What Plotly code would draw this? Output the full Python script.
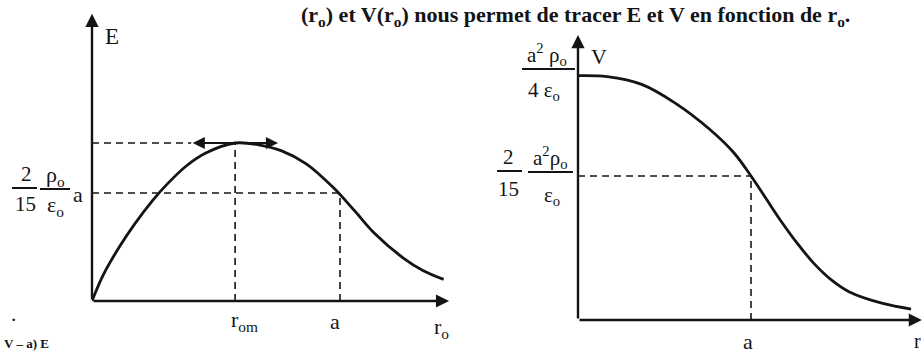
import plotly.graph_objects as go

# ---------------- data (a = 1, E(a) = 1, V(a) = 1) ----------------
# Left panel: E as a function of r0
E_r = [0, 0.045, 0.110, 0.171, 0.244, 0.302, 0.380, 0.459, 0.577, 0.672, 0.765, 0.864, 0.973,
       1.057, 1.142, 1.254, 1.336, 1.418]
E_val = [0, 0.24, 0.50, 0.71, 0.93, 1.08, 1.25, 1.37, 1.463, 1.446, 1.39, 1.27, 1.05,
         0.84, 0.62, 0.40, 0.28, 0.20]
r_om = 0.577
E_max = 1.463
E_a = 1.0
a_val = 1.0
tangent_r = [0.40, 0.75]
E_axis_max = [1.44, 2.66]   # x tip, y tip of left axes

# Right panel: V as a function of r0
V_r = [0, 0.169, 0.368, 0.562, 0.759, 0.902, 1.0, 1.086, 1.166, 1.269, 1.366, 1.468, 1.569,
       1.762, 1.925]
V_val = [1.697, 1.69, 1.636, 1.506, 1.326, 1.16, 1.0, 0.845, 0.70, 0.53, 0.39, 0.275,
         0.195, 0.115, 0.076]
V_0 = 1.697
V_a = 1.0
V_axis_max = [1.988, 1.979]

W, H = 924, 353
def px(x):
    return x / W
def py(y):
    return 1 - y / H

INK = "#141414"
FONT = "'Liberation Serif', 'DejaVu Serif', 'Times New Roman', serif"

fig = go.Figure()
fig.add_trace(go.Scatter(x=E_r, y=E_val, mode="lines", xaxis="x", yaxis="y",
                         line=dict(color=INK, width=2.8, shape="spline", smoothing=1.0),
                         hoverinfo="skip"))
fig.add_trace(go.Scatter(x=V_r, y=V_val, mode="lines", xaxis="x2", yaxis="y2",
                         line=dict(color=INK, width=2.8, shape="spline", smoothing=1.0),
                         hoverinfo="skip"))

dash = dict(color=INK, width=1.6, dash="7px,5px")
shapes = [
    # left panel dashed guides
    dict(type="line", xref="x", yref="y", x0=0, y0=E_max, x1=tangent_r[0], y1=E_max, line=dash),
    dict(type="line", xref="x", yref="y", x0=r_om, y0=0, x1=r_om, y1=E_max, line=dash),
    dict(type="line", xref="x", yref="y", x0=0, y0=E_a, x1=a_val, y1=E_a, line=dash),
    dict(type="line", xref="x", yref="y", x0=a_val, y0=0, x1=a_val, y1=E_a, line=dash),
    # right panel dashed guides
    dict(type="line", xref="x2", yref="y2", x0=0, y0=V_a, x1=a_val, y1=V_a, line=dash),
    dict(type="line", xref="x2", yref="y2", x0=a_val, y0=0, x1=a_val, y1=V_a, line=dash),
]
# fraction bars (paper coordinates)
def bar(x0, x1, y):
    return dict(type="line", xref="paper", yref="paper", x0=px(x0), x1=px(x1), y0=py(y), y1=py(y),
                line=dict(color=INK, width=2))
shapes += [bar(12, 37, 188), bar(40, 70, 189),
           bar(522, 575, 69),
           bar(497, 522, 171), bar(528, 573, 172)]

ann = []
def arrow(xref, yref, x, y, ax, ay, both=False, width=2.4):
    d = dict(xref=xref, yref=yref, axref=xref, ayref=yref, x=x, y=y, ax=ax, ay=ay, text="",
             showarrow=True, arrowhead=2, arrowsize=1.1, arrowwidth=width, arrowcolor=INK,
             standoff=0, startstandoff=0, font=dict(family=FONT, size=12, color=INK))
    if both:
        d["arrowside"] = "end+start"
        d["startarrowhead"] = 2
        d["startarrowsize"] = 1.1
    return d

ann += [arrow("x", "y", E_axis_max[0], 0, 0, 0), arrow("x", "y", 0, E_axis_max[1], 0, 0),
        arrow("x2", "y2", V_axis_max[0], 0, 0, 0), arrow("x2", "y2", 0, V_axis_max[1], 0, 0),
        arrow("x", "y", tangent_r[1], E_max, tangent_r[0], E_max, both=True, width=2.2)]

def txt(x, y, s, size=21, xanchor="center", yanchor="middle", bold=False):
    if bold:
        s = "<b>" + s + "</b>"
    return dict(xref="paper", yref="paper", x=px(x), y=py(y), text=s, showarrow=False,
                xanchor=xanchor, yanchor=yanchor, font=dict(family=FONT, size=size, color=INK))

ann += [
    # left panel labels
    txt(112, 37, "E", 23),
    txt(26, 174, "2", 21), txt(25, 204, "15", 21),
    txt(55, 176, "ρ<sub>o</sub>", 22), txt(55, 206, "ε<sub>o</sub>", 22),
    txt(78, 194, "a", 22),
    txt(244, 321, "r<sub>om</sub>", 22),
    txt(335, 321, "a", 22),
    txt(441, 328, "r<sub>o</sub>", 22),
    txt(13, 319, "·", 22),
    # right panel labels
    txt(599, 56, "V", 22),
    txt(547, 55, "a<sup>2</sup> ρ<sub>o</sub>", 21), txt(544, 91, "4 ε<sub>o</sub>", 21),
    txt(508, 157, "2", 21), txt(508, 189, "15", 21),
    txt(550, 157, "a<sup>2</sup>ρ<sub>o</sub>", 21), txt(552, 196, "ε<sub>o</sub>", 21),
    txt(748, 341, "a", 22),
    txt(917, 341, "r", 20),
    # surrounding page text
    txt(852, 0, "(r<sub>o</sub>) et V(r<sub>o</sub>) nous permet de tracer E et V en fonction de r<sub>o</sub>.",
        22, xanchor="right", yanchor="top", bold=True),
    txt(2, 353, "V – a) E", 13, xanchor="left", yanchor="bottom", bold=True),
]

fig.update_layout(
    width=W, height=H, margin=dict(l=0, r=0, t=0, b=0),
    font=dict(family=FONT, size=21, color=INK),
    paper_bgcolor="white", plot_bgcolor="rgba(0,0,0,0)", showlegend=False,
    xaxis=dict(domain=[px(92), px(92 + E_axis_max[0] * 248)], range=[0, E_axis_max[0]], visible=False),
    yaxis=dict(domain=[py(301), py(301 - E_axis_max[1] * 108)], range=[0, E_axis_max[1]], visible=False),
    xaxis2=dict(domain=[px(578), px(578 + V_axis_max[0] * 173)], range=[0, V_axis_max[0]], visible=False,
                anchor="y2"),
    yaxis2=dict(domain=[py(320), py(320 - V_axis_max[1] * 144)], range=[0, V_axis_max[1]], visible=False,
                anchor="x2"),
    shapes=shapes, annotations=ann,
)

fig.write_html("out.html", config={"displayModeBar": False},
               post_script="document.body.style.margin='0';document.body.style.overflow='hidden';")
